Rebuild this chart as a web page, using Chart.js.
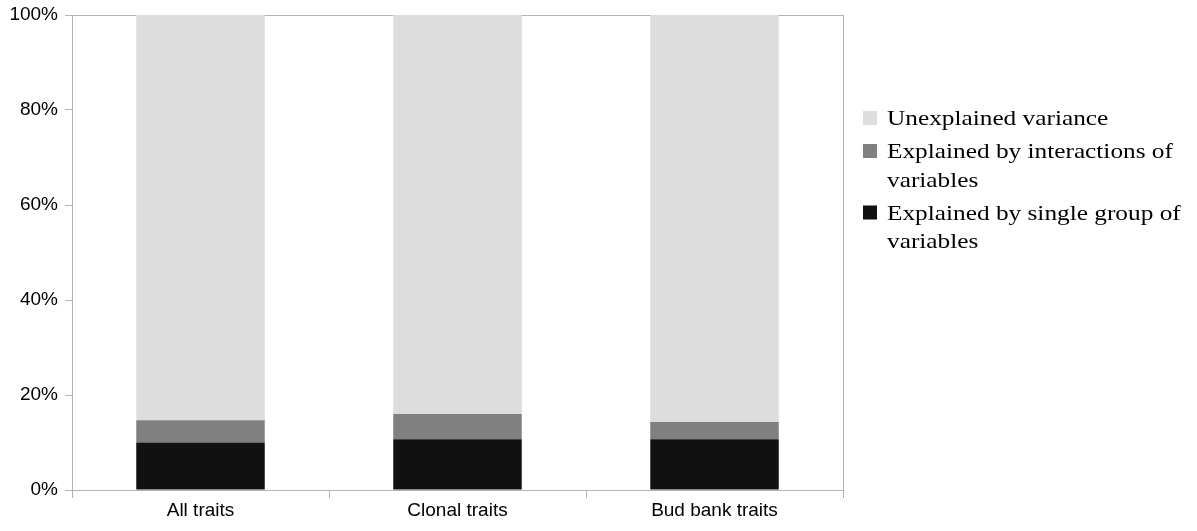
<!DOCTYPE html>
<html>
<head>
<meta charset="utf-8">
<script src="https://cdn.jsdelivr.net/npm/chart.js@4.4.1/dist/chart.umd.min.js"></script>
<style>
  html, body { margin: 0; padding: 0; background: #fff; }
  #wrap { width: 1197px; height: 531px; }
</style>
</head>
<body>
<div id="wrap"><canvas id="varChart" width="1197" height="531"></canvas></div>
<script>
const categories = ['All traits', 'Clonal traits', 'Bud bank traits']
const singleGroup = [10.0, 10.7, 10.7]
const interactions = [4.7, 5.3, 3.6]
const unexplained = [85.3, 84.0, 85.7]
const seriesNames = [
  ['Explained by single group of', 'variables'],
  ['Explained by interactions of', 'variables'],
  ['Unexplained variance']
]
const seriesColors = ['#111111', '#808080', '#dddddd']
const axisGrey = '#b3b3b3'

// legend drawn by hand so the labels can wrap like the original
const sideLegend = {
  id: 'sideLegend',
  afterDraw(chart) {
    const ctx = chart.ctx
    const area = chart.chartArea
    const boxX = area.right + 20
    const textX = area.right + 44
    let base = 125
    ctx.save()
    ctx.font = '22px "Liberation Serif", "Times New Roman", serif'
    ctx.textBaseline = 'alphabetic'
    ctx.fillStyle = '#000'
    const ds = chart.data.datasets.slice().reverse()
    ds.forEach((d, i) => {
      ctx.fillStyle = d.backgroundColor
      ctx.fillRect(boxX, base - 14, 14, 14)
      ctx.fillStyle = '#000'
      d.legendLines.forEach((line, j) => {
        ctx.save()
        ctx.translate(textX, base + j * 28.5)
        ctx.scale(1.15, 1)
        ctx.fillText(line, 0, 0)
        ctx.restore()
      })
      base += (d.legendLines.length - 1) * 28.5 + 33
    })
    ctx.restore()
  }
}

const values = [singleGroup, interactions, unexplained]
const datasets = values.map((v, i) => ({
  label: seriesNames[i].join(' '),
  legendLines: seriesNames[i],
  data: v,
  backgroundColor: seriesColors[i],
  borderWidth: 0,
  categoryPercentage: 1,
  barPercentage: 0.5
}))

new Chart(document.getElementById('varChart'), {
  type: 'bar',
  data: { labels: categories, datasets: datasets },
  plugins: [sideLegend],
  options: {
    responsive: false,
    animation: false,
    layout: { padding: { top: 15, right: 354, left: 0, bottom: 0 } },
    plugins: { legend: { display: false }, tooltip: { enabled: false } },
    scales: {
      x: {
        stacked: true,
        afterFit: (s) => { s.height = 41; s.paddingLeft = 0; s.paddingRight = 0 },
        border: { color: axisGrey, width: 1 },
        grid: {
          offset: true,
          drawTicks: true,
          tickLength: 8,
          tickColor: axisGrey,
          color: (c) => c.index === undefined ? axisGrey : 'rgba(0,0,0,0)'
        },
        ticks: {
          color: '#000',
          padding: 1,
          font: { family: '"Liberation Sans", Arial, sans-serif', size: 19 }
        }
      },
      y: {
        stacked: true,
        min: 0,
        max: 100,
        afterFit: (s) => { s.width = 72; s.paddingTop = 0; s.paddingBottom = 0 },
        border: { color: axisGrey, width: 1 },
        grid: {
          tickLength: 7,
          tickColor: axisGrey,
          color: (c) => c.tick && c.tick.value === 100 ? axisGrey : 'rgba(0,0,0,0)'
        },
        ticks: {
          stepSize: 20,
          color: '#000',
          padding: 7,
          font: { family: '"Liberation Sans", Arial, sans-serif', size: 19 },
          callback: (v) => v + '%'
        }
      }
    }
  }
})
</script>
</body>
</html>
